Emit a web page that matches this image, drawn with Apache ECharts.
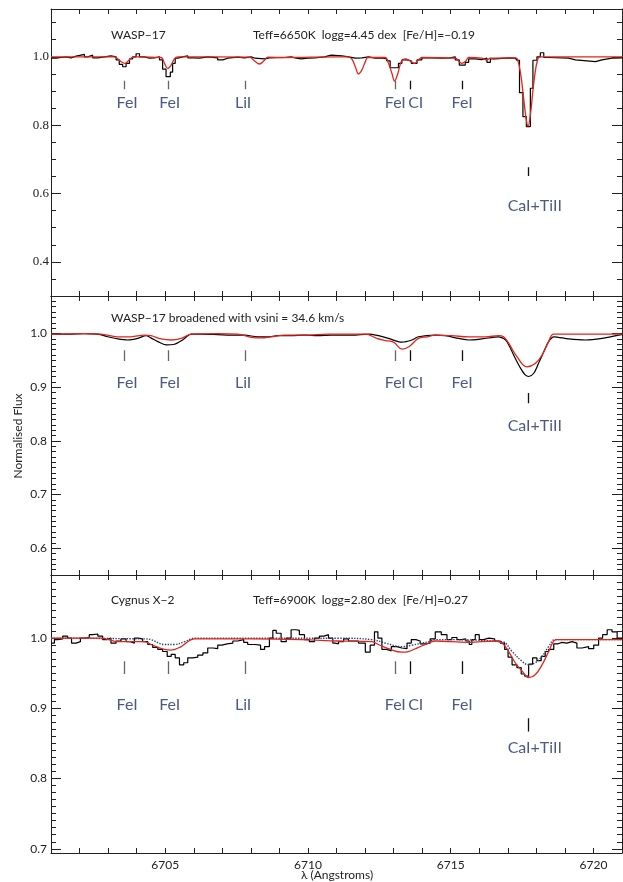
<!DOCTYPE html>
<html lang="en">

<head>
	<meta charset="UTF-8">
	<meta name="viewport" content="width=device-width, initial-scale=1.0">
	<title>Li 6708 region spectra</title>
	<script src="https://cdn.jsdelivr.net/npm/echarts@6.0.0/dist/echarts.min.js"></script>
	<style>
		* {
			margin: 0;
			padding: 0;
		}

		html,
		body,
		#main {
			width: 623px;
			height: 882px;
			background: #fff;
		}
	</style>
</head>

<body>
	<div id="main"></div>
	<script>
		// wavelength axis (Angstroms)
		const xMin = 6701;
		const xMax = 6721;
		const xTickLabels = [6705, 6710, 6715, 6720];

		// identified lines
		const lineNames = ['FeI', 'FeI', 'LiI', 'FeI', 'CI', 'FeI', 'CaI+TiII'];
		const lineWaves = [6703.56, 6705.09, 6707.80, 6713.06, 6713.60, 6715.40, 6717.70];

		const panel1YTicks = [0.4, 0.6, 0.8, 1.0];
		const panel2YTicks = [0.6, 0.7, 0.8, 0.9, 1.0];
		const panel3YTicks = [0.7, 0.8, 0.9, 1.0];

		// WASP-17 observed (bin start, flux)
		const waspObs = [
			[6701.00, 0.996], [6701.18, 0.998], [6701.35, 1.000], [6701.53, 0.997], [6701.70, 1.002], [6701.88, 1.005],
			[6702.05, 1.007], [6702.17, 1.000], [6702.29, 1.005], [6702.46, 0.997], [6702.64, 1.000], [6702.87, 1.003],
			[6703.10, 1.000], [6703.28, 0.991], [6703.39, 0.978], [6703.51, 0.971], [6703.63, 0.981], [6703.75, 0.994],
			[6703.86, 1.000], [6703.98, 1.009], [6704.10, 1.000], [6704.27, 0.996], [6704.45, 0.997], [6704.62, 1.000],
			[6704.80, 0.991], [6704.91, 0.964], [6705.03, 0.942], [6705.18, 0.955], [6705.26, 0.981], [6705.35, 0.996],
			[6705.44, 1.000], [6705.61, 1.003], [6705.79, 0.997], [6706.02, 0.996], [6706.20, 1.000], [6706.49, 0.997],
			[6706.84, 0.991], [6707.02, 0.996], [6707.19, 0.999], [6707.54, 0.997], [6707.78, 1.000], [6708.01, 0.996],
			[6708.15, 0.994], [6708.48, 0.997], [6708.65, 0.998], [6709.18, 1.000], [6709.41, 0.996], [6709.59, 0.994],
			[6709.76, 0.996], [6710.00, 0.997], [6710.23, 1.000], [6710.58, 1.005], [6710.81, 1.003], [6711.19, 1.000],
			[6711.42, 0.996], [6711.66, 0.997], [6711.89, 1.000], [6712.12, 0.996], [6712.36, 0.997], [6712.59, 0.994],
			[6712.76, 0.988], [6712.88, 0.968], [6713.17, 0.981], [6713.29, 0.991], [6713.47, 0.988], [6713.62, 0.981],
			[6713.82, 0.991], [6713.99, 0.997], [6714.34, 0.996], [6714.69, 0.997], [6714.98, 1.000], [6715.16, 0.991],
			[6715.30, 0.976], [6715.51, 0.984], [6715.63, 0.994], [6715.86, 0.992], [6716.09, 0.996], [6716.27, 0.984],
			[6716.39, 0.994], [6716.56, 0.997], [6717.03, 0.996], [6717.26, 0.994], [6717.32, 0.990], [6717.41, 0.895],
			[6717.53, 0.825], [6717.65, 0.796], [6717.79, 0.908], [6717.88, 0.990], [6718.02, 1.000], [6718.14, 1.012],
			[6718.26, 0.998], [6718.43, 0.996], [6719.13, 0.991], [6719.37, 0.986], [6720.07, 0.991], [6720.30, 0.996],
			[6720.65, 0.997], [6721.00, 0.997]
		];
		// WASP-17 synthetic spectrum
		const waspModel = [
			[6701.00, 1.000], [6703.22, 1.000], [6703.34, 0.994], [6703.47, 0.985], [6703.59, 0.981], [6703.72, 0.989],
			[6703.86, 0.999], [6704.00, 1.000], [6704.86, 0.998], [6704.97, 0.982], [6705.09, 0.966], [6705.21, 0.976],
			[6705.32, 0.994], [6705.44, 1.000], [6707.95, 0.999], [6708.13, 0.988], [6708.30, 0.979], [6708.47, 0.989],
			[6708.60, 0.999], [6709.20, 0.998], [6711.00, 1.000], [6711.42, 1.000], [6711.54, 0.993], [6711.66, 0.971],
			[6711.77, 0.950], [6711.89, 0.962], [6712.01, 0.986], [6712.10, 0.998], [6712.70, 0.998], [6712.82, 0.981],
			[6712.94, 0.952], [6713.03, 0.929], [6713.15, 0.952], [6713.27, 0.986], [6713.41, 0.994], [6713.58, 0.988],
			[6713.73, 0.981], [6713.87, 0.991], [6713.99, 0.998], [6715.16, 0.996], [6715.30, 0.986], [6715.39, 0.981],
			[6715.53, 0.988], [6715.63, 0.998], [6716.09, 0.996], [6716.27, 0.991], [6716.39, 0.996], [6717.26, 0.997],
			[6717.34, 0.993], [6717.45, 0.950], [6717.55, 0.883], [6717.64, 0.820], [6717.71, 0.797], [6717.79, 0.830],
			[6717.87, 0.893], [6717.95, 0.950], [6718.04, 0.990], [6718.12, 1.000], [6721.00, 1.000]
		];

		// WASP-17 broadened with vsini = 34.6 km/s
		const broadObs = [
			[6701.00, 0.999], [6701.58, 0.999], [6702.17, 1.000], [6702.64, 0.999], [6702.99, 0.994], [6703.34, 0.990],
			[6703.69, 0.988], [6704.04, 0.991], [6704.33, 0.996], [6704.50, 0.992], [6704.74, 0.985], [6705.03, 0.979],
			[6705.32, 0.980], [6705.61, 0.988], [6705.91, 0.999], [6706.26, 0.999], [6706.84, 0.998], [6707.31, 0.997],
			[6707.78, 0.997], [6708.24, 0.994], [6708.59, 0.994], [6708.94, 0.996], [6709.41, 0.996], [6709.88, 0.997],
			[6710.35, 0.996], [6710.81, 0.997], [6711.54, 0.997], [6712.12, 0.999], [6712.47, 0.996], [6712.82, 0.991],
			[6713.29, 0.984], [6713.64, 0.988], [6713.87, 0.994], [6714.46, 0.997], [6714.81, 0.996], [6715.28, 0.991],
			[6715.63, 0.988], [6716.09, 0.990], [6716.68, 0.994], [6716.85, 0.991], [6716.97, 0.985], [6717.09, 0.973],
			[6717.26, 0.954], [6717.44, 0.936], [6717.61, 0.923], [6717.73, 0.920], [6717.91, 0.926], [6718.08, 0.945],
			[6718.26, 0.966], [6718.43, 0.985], [6718.61, 0.994], [6719.13, 0.990], [6719.72, 0.988], [6720.30, 0.991],
			[6720.88, 0.997], [6721.00, 0.998]
		];
		const broadModel = [
			[6701.00, 0.999], [6702.17, 1.000], [6702.75, 0.999], [6703.34, 0.994], [6703.80, 0.994], [6704.27, 0.997],
			[6704.50, 0.996], [6704.86, 0.990], [6705.21, 0.988], [6705.56, 0.991], [6705.91, 0.999], [6706.84, 1.000],
			[6707.54, 0.999], [6708.01, 0.993], [6708.36, 0.992], [6708.71, 0.994], [6709.18, 0.997], [6709.88, 0.997],
			[6710.70, 0.999], [6712.01, 0.999], [6712.41, 0.991], [6712.71, 0.987], [6713.00, 0.984], [6713.30, 0.971],
			[6713.55, 0.976], [6713.87, 0.991], [6714.17, 0.994], [6714.46, 0.997], [6715.04, 0.996], [6715.63, 0.994],
			[6716.21, 0.994], [6716.68, 0.996], [6716.85, 0.994], [6717.03, 0.982], [6717.32, 0.957], [6717.67, 0.938],
			[6717.96, 0.944], [6718.20, 0.960], [6718.43, 0.985], [6718.61, 0.999], [6721.00, 0.999]
		];

		// Cygnus X-2 observed (bin start, flux)
		const cygObs = [
			[6701.00, 0.993], [6701.12, 0.998], [6701.23, 0.999], [6701.41, 1.003], [6701.58, 1.000], [6701.72, 0.993],
			[6701.88, 0.995], [6702.03, 1.000], [6702.17, 1.001], [6702.34, 1.005], [6702.46, 1.006], [6702.64, 1.003],
			[6702.81, 0.998], [6702.96, 1.000], [6703.10, 0.993], [6703.28, 0.996], [6703.45, 0.999], [6703.63, 0.995],
			[6703.78, 0.993], [6703.92, 1.000], [6704.06, 0.999], [6704.21, 0.995], [6704.39, 0.991], [6704.56, 0.987],
			[6704.74, 0.984], [6704.91, 0.981], [6705.07, 0.974], [6705.21, 0.977], [6705.35, 0.972], [6705.50, 0.962],
			[6705.65, 0.965], [6705.79, 0.972], [6705.96, 0.973], [6706.14, 0.976], [6706.32, 0.979], [6706.49, 0.986],
			[6706.67, 0.985], [6706.84, 0.990], [6706.98, 0.992], [6707.17, 0.993], [6707.37, 0.996], [6707.54, 0.998],
			[6707.75, 0.994], [6707.89, 0.991], [6708.13, 0.990], [6708.34, 0.984], [6708.48, 0.988], [6708.65, 1.000],
			[6708.77, 1.011], [6708.89, 1.007], [6709.06, 0.995], [6709.24, 1.000], [6709.41, 1.012], [6709.59, 1.011],
			[6709.70, 1.005], [6709.88, 0.998], [6710.05, 0.995], [6710.23, 1.000], [6710.40, 1.003], [6710.56, 1.005],
			[6710.72, 1.000], [6710.87, 0.993], [6710.95, 0.992], [6711.07, 0.995], [6711.25, 0.999], [6711.42, 0.996],
			[6711.77, 0.993], [6712.01, 0.980], [6712.18, 0.990], [6712.33, 1.009], [6712.45, 1.000], [6712.59, 0.984],
			[6712.76, 0.982], [6712.92, 0.988], [6713.11, 0.986], [6713.29, 0.985], [6713.47, 0.993], [6713.62, 0.998],
			[6713.78, 0.996], [6713.93, 0.992], [6714.11, 0.993], [6714.28, 0.999], [6714.46, 1.009], [6714.67, 1.005],
			[6714.87, 0.998], [6715.04, 1.001], [6715.22, 0.998], [6715.37, 0.999], [6715.53, 0.996], [6715.65, 0.991],
			[6715.74, 0.998], [6715.86, 1.005], [6716.00, 0.998], [6716.15, 1.000], [6716.33, 0.999], [6716.54, 0.996],
			[6716.74, 0.993], [6716.89, 0.984], [6717.01, 0.973], [6717.15, 0.962], [6717.32, 0.958], [6717.47, 0.949],
			[6717.59, 0.946], [6717.73, 0.963], [6717.87, 0.972], [6718.02, 0.968], [6718.17, 0.974], [6718.31, 0.981],
			[6718.43, 0.984], [6718.61, 0.992], [6718.76, 0.994], [6718.90, 0.993], [6719.07, 0.995], [6719.25, 0.993],
			[6719.42, 0.986], [6719.60, 0.988], [6719.83, 0.985], [6720.01, 0.990], [6720.18, 1.000], [6720.32, 1.005],
			[6720.48, 1.012], [6720.65, 1.009], [6720.83, 1.000], [6721.00, 1.000]
		];
		const cygModel = [
			[6701.00, 1.000], [6702.75, 1.000], [6703.34, 0.995], [6704.27, 0.995], [6704.50, 0.991], [6704.97, 0.984],
			[6705.21, 0.983], [6705.56, 0.988], [6705.79, 0.995], [6706.02, 0.999], [6708.01, 0.999], [6709.76, 0.998],
			[6711.05, 0.996], [6712.24, 0.995], [6712.47, 0.991], [6712.82, 0.985], [6713.29, 0.980], [6713.52, 0.981],
			[6713.87, 0.987], [6714.22, 0.993], [6714.46, 0.996], [6715.63, 0.994], [6716.56, 0.996], [6716.80, 0.993],
			[6717.03, 0.981], [6717.26, 0.965], [6717.50, 0.953], [6717.73, 0.944], [6717.96, 0.948], [6718.20, 0.962],
			[6718.43, 0.981], [6718.61, 0.996], [6718.72, 0.998], [6721.00, 0.998]
		];
		// second (dotted) synthetic spectrum
		const cygModelAlt = [
			[6701.00, 1.000], [6704.27, 0.999], [6704.50, 0.998], [6704.97, 0.991], [6705.32, 0.991], [6705.67, 0.995],
			[6705.91, 0.999], [6706.02, 1.000], [6711.05, 1.000], [6712.24, 0.998], [6712.71, 0.993], [6713.29, 0.988],
			[6713.64, 0.990], [6714.22, 0.995], [6714.46, 0.998], [6716.80, 0.995], [6717.15, 0.981], [6717.50, 0.967],
			[6717.73, 0.962], [6717.96, 0.965], [6718.20, 0.974], [6718.43, 0.988], [6718.66, 0.998], [6721.00, 0.998]
		];

		const chart = echarts.init(document.getElementById('main'));

		const navy = '#1f2f66';
		const red = '#e3241b';
		const ink = '#222';
		// label nudges in px, same order as lineNames
		const labelShift = [3, 2, -2, 0, 5, 0, 7];

		function minorTicks(min, max, step) {
			const out = [];
			for (let k = Math.ceil(min / step - 1e-6); k * step <= max + 1e-9; k++) {
				out.push(+(k * step).toFixed(4));
			}
			return out;
		}

		const panels = [{
				top: 9, height: 287, min: 0.3, max: 1.14, major: panel1YTicks, step: 0.05, serif: true,
				obs: waspObs, model: waspModel, obsStep: true,
				mark: [0.905, 0.93], markCa: [0.651, 0.677], label: 0.865, labelCa: 0.563
			},
			{
				top: 296, height: 279, min: 0.55, max: 1.07, major: panel2YTicks, step: 0.01,
				obs: broadObs, model: broadModel, obsStep: false,
				mark: [0.949, 0.969], markCa: [0.870, 0.889], label: 0.908, labelCa: 0.828
			},
			{
				top: 575, height: 278, min: 0.694, max: 1.09, major: panel3YTicks, step: 0.01,
				obs: cygObs, model: cygModel, alt: cygModelAlt, obsStep: true,
				mark: [0.949, 0.967], markCa: [0.867, 0.886], label: 0.905, labelCa: 0.844
			}
		];

		const grids = [], xAxes = [], yAxes = [], series = [];

		panels.forEach((p, i) => {
			const last = i === panels.length - 1;
			// main grid + an overlapping one that only carries the minor y ticks
			grids.push({ left: 51, width: 571, top: p.top, height: p.height, outerBoundsMode: 'none' });
			grids.push({ left: 51, width: 571, top: p.top, height: p.height, outerBoundsMode: 'none' });
			const gMain = 2 * i, gMinor = 2 * i + 1;

			const xBase = {
				type: 'value', min: xMin, max: xMax, interval: 1,
				splitLine: { show: false },
				axisLine: { onZero: false, lineStyle: { color: ink, width: 1 } },
				axisTick: { inside: true, length: 5, lineStyle: { color: ink } }
			};
			xAxes.push(Object.assign({}, xBase, {
				gridIndex: gMain, position: 'bottom',
				axisLabel: {
					show: last, margin: 6, color: ink, fontFamily: 'Lato', fontSize: 12,
					formatter: v => xTickLabels.includes(v) ? String(v) : ''
				}
			}));
			xAxes.push(Object.assign({}, xBase, { gridIndex: gMain, position: 'top', axisLabel: { show: false } }));
			xAxes.push({ type: 'value', gridIndex: gMinor, min: xMin, max: xMax, show: false });

			const majorTick = { inside: true, length: 10, customValues: p.major, lineStyle: { color: ink } };
			const yBase = {
				type: 'value', min: p.min, max: p.max,
				splitLine: { show: false },
				axisLine: { show: true, onZero: false, lineStyle: { color: ink, width: 1 } }
			};
			yAxes.push(Object.assign({}, yBase, {
				gridIndex: gMain, position: 'left', axisTick: majorTick,
				axisLabel: {
					customValues: p.major, color: ink, margin: p.serif ? 2 : 4,
					fontFamily: p.serif ? 'Liberation Serif' : 'Lato', fontSize: p.serif ? 13 : 12,
					formatter: v => v.toFixed(1)
				}
			}));
			yAxes.push(Object.assign({}, yBase, { gridIndex: gMain, position: 'right', axisTick: majorTick, axisLabel: { show: false } }));

			const minor = minorTicks(p.min, p.max, p.step);
			const minorAxis = {
				type: 'value', gridIndex: gMinor, min: p.min, max: p.max,
				splitLine: { show: false }, axisLine: { show: false }, axisLabel: { show: false },
				axisTick: { inside: true, length: 5, customValues: minor, lineStyle: { color: ink } }
			};
			yAxes.push(Object.assign({}, minorAxis, { position: 'left' }));
			yAxes.push(Object.assign({}, minorAxis, { position: 'right' }));

			const xi = 3 * i, yi = 4 * i;

			series.push({
				type: 'line', xAxisIndex: xi, yAxisIndex: yi, data: p.obs,
				step: p.obsStep ? 'end' : false, smooth: p.obsStep ? false : 0.3,
				symbol: 'none', lineStyle: { color: '#000', width: 1.2 }, z: 2
			});
			if (p.alt) {
				series.push({
					type: 'line', xAxisIndex: xi, yAxisIndex: yi, data: p.alt, smooth: 0.4,
					symbol: 'none', lineStyle: { color: '#2c3d74', width: 1.4, type: 'dotted' }, z: 3
				});
			}
			series.push({
				type: 'line', xAxisIndex: xi, yAxisIndex: yi, data: p.model, smooth: 0.4,
				symbol: 'none', lineStyle: { color: red, width: 1.3 }, z: 4
			});

			// short tick marks under each identified line
			series.push({
				type: 'lines', coordinateSystem: 'cartesian2d', xAxisIndex: xi, yAxisIndex: yi, silent: true,
				lineStyle: { width: 1.3, opacity: 1 },
				data: lineWaves.map((w, k) => {
					const r = k === 6 ? p.markCa : p.mark;
					return { coords: [[w, r[0]], [w, r[1]]], lineStyle: { color: k < 4 ? '#666' : '#111' } };
				})
			});
			series.push({
				type: 'scatter', xAxisIndex: xi, yAxisIndex: yi, silent: true, symbolSize: 1,
				itemStyle: { color: 'rgba(0,0,0,0)' },
				label: { show: true, position: 'inside', formatter: '{b}', color: navy, fontFamily: 'Lato', fontSize: 16 },
				data: lineNames.map((n, k) => ({
					name: n,
					value: [lineWaves[k], k === 6 ? p.labelCa : p.label],
					label: { offset: [labelShift[k], 0] }
				})),
				z: 5
			});
		});

		const textStyle = { font: '12px Lato', fill: ink, verticalAlign: 'middle' };
		const note = (x, y, text) => ({ type: 'text', x: x, y: y, style: Object.assign({ text: text }, textStyle) });

		const option = {
			animation: false,
			backgroundColor: '#fff',
			grid: grids,
			xAxis: xAxes,
			yAxis: yAxes,
			series: series,
			graphic: [
				note(111, 35, 'WASP\u221217'),
				note(253, 35, 'Teff=6650K  logg=4.45 dex  [Fe/H]=\u22120.19'),
				note(111, 318, 'WASP\u221217 broadened with vsini = 34.6 km/s'),
				note(111, 600, 'Cygnus X\u22122'),
				note(253, 600, 'Teff=6900K  logg=2.80 dex  [Fe/H]=0.27'),
				{
					type: 'text', x: 337, y: 875,
					style: { text: '\u03bb (Angstroms)', font: '12px Lato', fill: ink, align: 'center', verticalAlign: 'middle' }
				},
				{
					type: 'text', x: 18, y: 436, rotation: Math.PI / 2,
					style: { text: 'Normalised Flux', font: '12px Lato', fill: ink, align: 'center', verticalAlign: 'middle' }
				}
			]
		};

		chart.setOption(option);
	</script>
</body>

</html>
